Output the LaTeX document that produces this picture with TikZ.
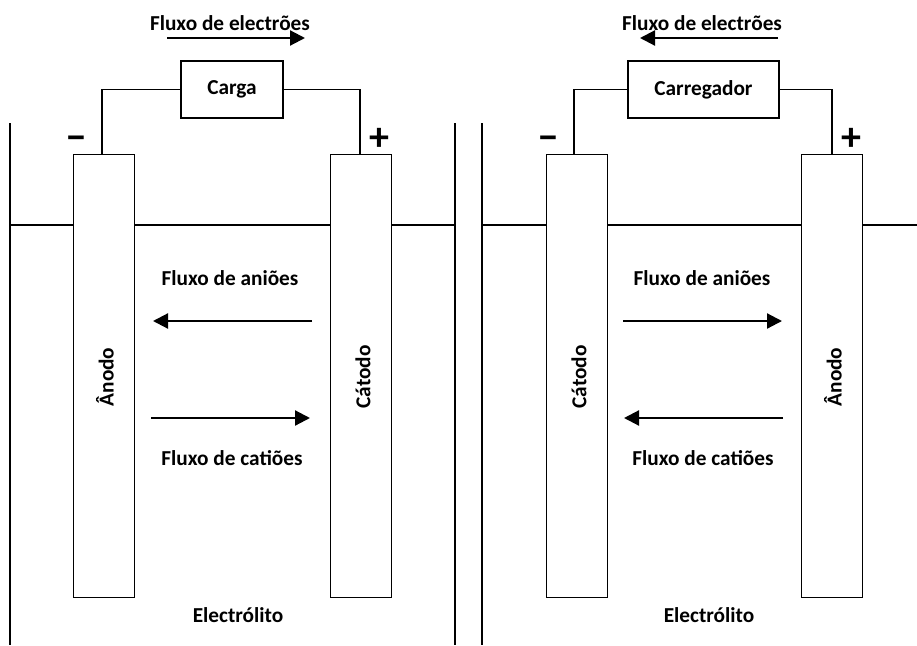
\documentclass[tikz,border=0pt]{standalone}
\usepackage{fontspec}
\setmainfont{Carlito}
\usetikzlibrary{arrows.meta}
\begin{document}
\begin{tikzpicture}[x=1pt,y=-1pt,
  line width=1.3pt,
  lbl/.style={font=\bfseries\fontsize{21.3}{25}\selectfont, inner sep=0pt},
  sign/.style={font=\bfseries\fontsize{40}{44}\selectfont, inner sep=0pt, anchor=base},
  elec/.style={draw, minimum width=61pt, minimum height=443pt, inner sep=0pt, anchor=north west},
  loadbox/.style={draw, minimum height=57pt, inner sep=0pt, font=\bfseries\fontsize{21.3}{25}\selectfont},
  flow/.style={line width=2.2pt, -{Triangle[length=15pt,width=15pt]}}]
\useasboundingbox (0,0) rectangle (917,645);
% ---------- left cell ----------
\coordinate (LWt) at (10,123); \coordinate (LWb) at (10,645);
\coordinate (RWt) at (455,123); \coordinate (RWb) at (455,645);
\draw (LWt) -- (LWb);
\draw (RWt) -- (RWb);
\node[elec] (an1) at (73,154) {};
\node[elec] (ca1) at (330,154) {};
\coordinate (h1a) at (10,225); \coordinate (h1b) at (455,225);
\draw (h1a) -- (h1a -| an1.west);
\draw (h1a -| an1.east) -- (h1a -| ca1.west);
\draw (h1a -| ca1.east) -- (h1b);
\node[loadbox, minimum width=102pt] (load1) at (232,89.5) {Carga};
\coordinate (w1l) at (102,154); \coordinate (w1r) at (360,154);
\draw (w1l) |- (load1.west);
\draw (w1r) |- (load1.east);
\node[sign] (m1) at (76,150) {\textminus};
\node[sign] (p1) at (379,150) {+};
\node[lbl] (fe1) at (230,23) {Fluxo de electrões};
\coordinate (fe1a) at (167,38); \coordinate (fe1b) at (305,38);
\draw[flow] (fe1a) -- (fe1b);
\node[lbl, rotate=90] at (105,377) {Ânodo};
\node[lbl, rotate=90] at (363,377) {Cátodo};
\node[lbl] (an1t) at (230,278) {Fluxo de aniões};
\coordinate (a1s) at (312,321); \coordinate (a1e) at (153,321);
\draw[flow] (a1s) -- (a1e);
\coordinate (c1s) at (151,418); \coordinate (c1e) at (310,418);
\draw[flow] (c1s) -- (c1e);
\node[lbl] (ct1t) at (232,458) {Fluxo de catiões};
\node[lbl] (el1) at (238,615) {Electrólito};
% ---------- right cell ----------
\coordinate (LW2t) at (482,123); \coordinate (LW2b) at (482,645);
\draw (LW2t) -- (LW2b);
\node[elec] (ca2) at (546,154) {};
\node[elec] (an2) at (801,154) {};
\coordinate (h2a) at (482,225); \coordinate (h2b) at (917,225);
\draw (h2a) -- (h2a -| ca2.west);
\draw (h2a -| ca2.east) -- (h2a -| an2.west);
\draw (h2a -| an2.east) -- (h2b);
\node[loadbox, minimum width=151pt] (load2) at (703.5,89.5) {Carregador};
\coordinate (w2l) at (574,154); \coordinate (w2r) at (832,154);
\draw (w2l) |- (load2.west);
\draw (w2r) |- (load2.east);
\node[sign] (m2) at (548,150) {\textminus};
\node[sign] (p2) at (851,150) {+};
\node[lbl] (fe2) at (702,23) {Fluxo de electrões};
\coordinate (fe2a) at (778,38); \coordinate (fe2b) at (640,38);
\draw[flow] (fe2a) -- (fe2b);
\node[lbl, rotate=90] at (579,377) {Cátodo};
\node[lbl, rotate=90] at (833,377) {Ânodo};
\node[lbl] (an2t) at (702,278) {Fluxo de aniões};
\coordinate (a2s) at (623,321); \coordinate (a2e) at (782,321);
\draw[flow] (a2s) -- (a2e);
\coordinate (c2s) at (783,418); \coordinate (c2e) at (624,418);
\draw[flow] (c2s) -- (c2e);
\node[lbl] (ct2t) at (703,458) {Fluxo de catiões};
\node[lbl] (el2) at (709,615) {Electrólito};
\end{tikzpicture}
\end{document}
